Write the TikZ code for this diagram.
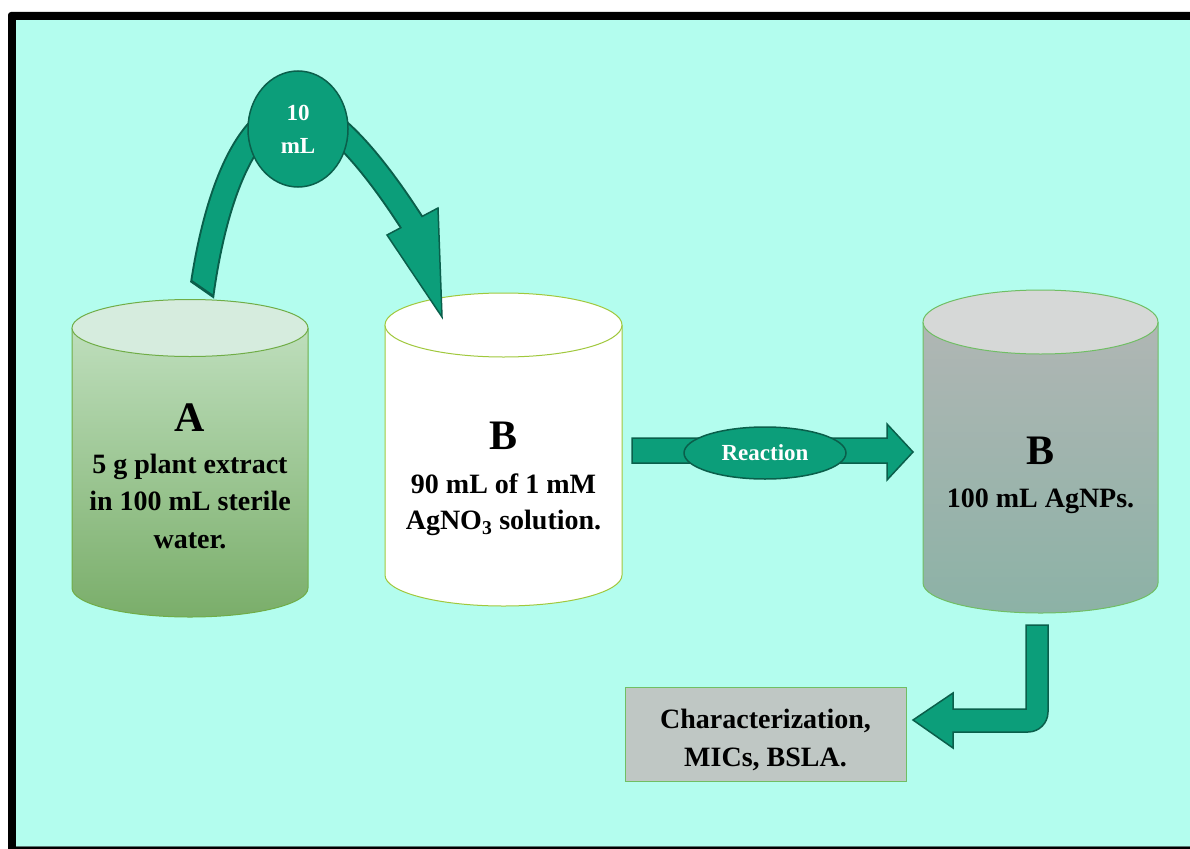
\documentclass[tikz,border=0pt]{standalone}
\usepackage{fontspec}
\setmainfont{Liberation Serif}
\usetikzlibrary{shapes.geometric}
\definecolor{bgcol}{RGB}{179,253,238}
\definecolor{tealA}{RGB}{12,158,122}
\definecolor{tealdark}{RGB}{10,95,75}
\definecolor{Atop}{RGB}{190,222,188}
\definecolor{Abot}{RGB}{122,174,106}
\definecolor{Acap}{RGB}{214,236,222}
\definecolor{Aborder}{RGB}{112,173,71}
\definecolor{Bborder}{RGB}{160,200,60}
\definecolor{Ctop}{RGB}{176,182,180}
\definecolor{Cbot}{RGB}{140,178,166}
\definecolor{Ccap}{RGB}{214,216,215}
\definecolor{Cborder}{RGB}{112,190,100}
\definecolor{boxfill}{RGB}{191,199,196}
\definecolor{linegray}{RGB}{90,120,115}
\tikzset{
  arrowfill/.style={fill=tealA, draw=tealdark, line width=1.5pt, line join=miter},
  bigletter/.style={font=\bfseries\fontsize{42}{42}\selectfont, inner sep=0pt},
  bodytext/.style={font=\bfseries\fontsize{28}{36}\selectfont, align=center, inner sep=0pt},
  tealbubble/.style={ellipse, fill=tealA, draw=tealdark, line width=1.5pt, text=white, inner sep=0pt, align=center},
  cylborder/.style={line width=1pt},
}
\begin{document}
\begin{tikzpicture}[x=1pt,y=1pt]
\useasboundingbox (0,0) rectangle (1190,-848);
\clip (0,0) rectangle (1190,-848);
% frame
\fill[white] (0,0) rectangle (1190,-848);
\fill[black, rounded corners=3pt] (8,-12) rectangle (1210,-870);
\fill[bgcol] (16,-20) rectangle (1190,-846);
\draw[linegray, line width=1pt] (16,-846.5) -- (1190,-846.5);

% cylinder A
\shade[top color=Atop, bottom color=Abot] (72,-328) -- (72,-588) arc[start angle=180,end angle=360,x radius=118,y radius=29] -- (308,-328) -- cycle;
\draw[Aborder, cylborder] (72,-328) -- (72,-588) arc[start angle=180,end angle=360,x radius=118,y radius=29] -- (308,-328);
\filldraw[fill=Acap, draw=Aborder, cylborder] (190,-328) ellipse[x radius=118, y radius=28.5];

% cylinder B
\fill[white] (385,-325) -- (385,-575) arc[start angle=180,end angle=360,x radius=118.5,y radius=31] -- (622,-325) -- cycle;
\draw[Bborder, cylborder] (385,-325) -- (385,-575) arc[start angle=180,end angle=360,x radius=118.5,y radius=31] -- (622,-325);
\filldraw[fill=white, draw=Bborder, cylborder] (503.5,-325) ellipse[x radius=118.5, y radius=32];

% cylinder C
\shade[top color=Ctop, bottom color=Cbot] (923,-322) -- (923,-583) arc[start angle=180,end angle=360,x radius=117.5,y radius=30] -- (1158,-322) -- cycle;
\draw[Cborder, cylborder] (923,-322) -- (923,-583) arc[start angle=180,end angle=360,x radius=117.5,y radius=30] -- (1158,-322);
\filldraw[fill=Ccap, draw=Cborder, cylborder] (1040.5,-322) ellipse[x radius=117.5, y radius=32];

% texts in cylinders
\node[bigletter] (Aletter) at (190,-417.5) {A};
\node[bodytext, font=\bfseries\fontsize{28}{37.5}\selectfont] (Atext) at (190,-501) {5 g plant extract\\in 100 mL sterile\\water.};
\node[bigletter] (Bletter) at (503.5,-436) {B};
\node[bodytext] (Btext) at (503.5,-505) {90 mL of 1 mM\\AgNO\textsubscript{3} solution.};
\node[bigletter] (Cletter) at (1040.5,-451) {B};
\node[bodytext] (Ctext) at (1040.5,-501.5) {100 mL AgNPs.};

% curved arrow A -> B (tail cut obliquely)
\begin{scope}
  \clip (150,-254.2) -- (260,-330.7) -- (600,-330.7) -- (600,0) -- (150,0) -- cycle;
  \draw[tealdark, line width=26pt] (199,-314) .. controls (213,-190) and (250,-110) .. (298,-110) .. controls (330,-110) and (375,-165) .. (414,-226);
\end{scope}
\filldraw[arrowfill] (387,-235) -- (438,-208) -- (442,-317) -- cycle;
\begin{scope}
  \clip (151.7,-251.8) -- (261.7,-328.3) -- (600,-328.3) -- (600,0) -- (151.7,0) -- cycle;
  \draw[tealA, line width=22pt] (199,-314) .. controls (213,-190) and (250,-110) .. (298,-110) .. controls (330,-110) and (375,-165) .. (414,-226);
\end{scope}
\node[tealbubble, minimum width=100pt, minimum height=116pt, font=\bfseries\fontsize{23}{33}\selectfont] (vol) at (298,-129) {10\\mL};

% reaction arrow B -> C
\filldraw[arrowfill] (632,-438) -- (887,-438) -- (887,-424) -- (913,-452) -- (887,-480) -- (887,-463) -- (632,-463) -- cycle;
\node[tealbubble, minimum width=162pt, minimum height=52pt, font=\bfseries\fontsize{23}{23}\selectfont] (react) at (765,-453) {Reaction};

% bent arrow C -> box
\filldraw[arrowfill] (1026,-625) -- (1048,-625) -- (1048,-712) arc[start angle=0,end angle=-90,radius=20] -- (953,-732) -- (953,-748) -- (913,-720) -- (953,-693) -- (953,-709) -- (1026,-709) -- cycle;

% result box
\node[draw=Cborder, fill=boxfill, line width=1pt, minimum width=281pt, minimum height=94pt, inner sep=0pt] (box) at (765.5,-734) {};
\node[bodytext, font=\bfseries\fontsize{28}{38.5}\selectfont] (boxtext) at (765.5,-740) {Characterization,\\MICs, BSLA.};
\end{tikzpicture}
\end{document}
